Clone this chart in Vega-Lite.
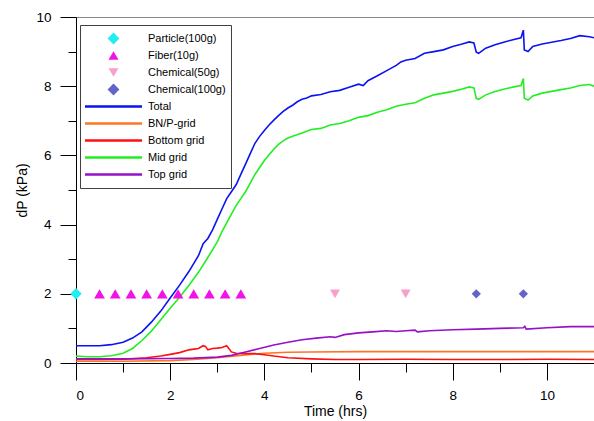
{
  "$schema": "https://vega.github.io/schema/vega-lite/v6.json",
  "width": 518,
  "height": 346,
  "autosize": {"type": "none"},
  "padding": {"left": 76, "top": 17, "right": 0, "bottom": 58},
  "background": "white",
  "config": {
    "view": {"stroke": "#888888", "strokeWidth": 1},
    "font": "Liberation Sans",
    "axis": {
      "grid": false,
      "domainColor": "#000000",
      "tickColor": "#000000",
      "labelColor": "#000000",
      "titleColor": "#000000",
      "labelFont": "Liberation Sans",
      "titleFont": "Liberation Sans",
      "labelFontSize": 13.5,
      "titleFontSize": 14,
      "titleFontWeight": "normal"
    }
  },
  "datasets": {
    "lines": [
      {"s":"Total","t":0,"v":0.50},{"s":"Total","t":0.25,"v":0.50},{"s":"Total","t":0.5,"v":0.50},{"s":"Total","t":0.75,"v":0.53},{"s":"Total","t":1.0,"v":0.60},{"s":"Total","t":1.2,"v":0.72},{"s":"Total","t":1.4,"v":0.90},{"s":"Total","t":1.6,"v":1.18},{"s":"Total","t":1.8,"v":1.50},{"s":"Total","t":2.0,"v":1.88},{"s":"Total","t":2.2,"v":2.25},{"s":"Total","t":2.4,"v":2.65},{"s":"Total","t":2.6,"v":3.10},{"s":"Total","t":2.7,"v":3.45},{"s":"Total","t":2.8,"v":3.60},{"s":"Total","t":2.9,"v":3.85},{"s":"Total","t":3.0,"v":4.15},{"s":"Total","t":3.1,"v":4.45},{"s":"Total","t":3.2,"v":4.75},{"s":"Total","t":3.3,"v":4.95},{"s":"Total","t":3.4,"v":5.15},{"s":"Total","t":3.5,"v":5.45},{"s":"Total","t":3.6,"v":5.75},{"s":"Total","t":3.7,"v":6.05},{"s":"Total","t":3.8,"v":6.35},{"s":"Total","t":3.9,"v":6.55},{"s":"Total","t":4.0,"v":6.72},{"s":"Total","t":4.1,"v":6.88},{"s":"Total","t":4.2,"v":7.02},{"s":"Total","t":4.3,"v":7.15},{"s":"Total","t":4.4,"v":7.27},{"s":"Total","t":4.5,"v":7.37},{"s":"Total","t":4.6,"v":7.45},{"s":"Total","t":4.7,"v":7.55},{"s":"Total","t":4.8,"v":7.62},{"s":"Total","t":4.9,"v":7.66},{"s":"Total","t":5.0,"v":7.72},{"s":"Total","t":5.2,"v":7.76},{"s":"Total","t":5.4,"v":7.84},{"s":"Total","t":5.6,"v":7.88},{"s":"Total","t":5.8,"v":7.97},{"s":"Total","t":6.0,"v":8.06},{"s":"Total","t":6.1,"v":8.02},{"s":"Total","t":6.2,"v":8.16},{"s":"Total","t":6.4,"v":8.30},{"s":"Total","t":6.6,"v":8.45},{"s":"Total","t":6.8,"v":8.60},{"s":"Total","t":6.9,"v":8.70},{"s":"Total","t":7.0,"v":8.75},{"s":"Total","t":7.2,"v":8.80},{"s":"Total","t":7.4,"v":8.95},{"s":"Total","t":7.6,"v":9.00},{"s":"Total","t":7.8,"v":9.05},{"s":"Total","t":8.0,"v":9.15},{"s":"Total","t":8.2,"v":9.22},{"s":"Total","t":8.35,"v":9.28},{"s":"Total","t":8.45,"v":9.25},{"s":"Total","t":8.5,"v":8.98},{"s":"Total","t":8.55,"v":8.95},{"s":"Total","t":8.7,"v":9.10},{"s":"Total","t":8.9,"v":9.20},{"s":"Total","t":9.1,"v":9.28},{"s":"Total","t":9.3,"v":9.35},{"s":"Total","t":9.45,"v":9.40},{"s":"Total","t":9.5,"v":9.62},{"s":"Total","t":9.52,"v":9.05},{"s":"Total","t":9.6,"v":9.00},{"s":"Total","t":9.7,"v":9.15},{"s":"Total","t":9.9,"v":9.22},{"s":"Total","t":10.1,"v":9.27},{"s":"Total","t":10.3,"v":9.32},{"s":"Total","t":10.5,"v":9.38},{"s":"Total","t":10.7,"v":9.46},{"s":"Total","t":10.9,"v":9.43},{"s":"Total","t":11.0,"v":9.40},

      {"s":"BN/P-grid","t":0,"v":0.05},{"s":"BN/P-grid","t":1.0,"v":0.05},{"s":"BN/P-grid","t":2.0,"v":0.07},{"s":"BN/P-grid","t":2.5,"v":0.10},{"s":"BN/P-grid","t":3.0,"v":0.15},{"s":"BN/P-grid","t":3.5,"v":0.22},{"s":"BN/P-grid","t":3.8,"v":0.26},{"s":"BN/P-grid","t":4.0,"v":0.28},{"s":"BN/P-grid","t":4.5,"v":0.31},{"s":"BN/P-grid","t":5.0,"v":0.32},{"s":"BN/P-grid","t":6.0,"v":0.33},{"s":"BN/P-grid","t":7.0,"v":0.33},{"s":"BN/P-grid","t":8.0,"v":0.33},{"s":"BN/P-grid","t":9.0,"v":0.33},{"s":"BN/P-grid","t":10.0,"v":0.33},{"s":"BN/P-grid","t":11.0,"v":0.33},

      {"s":"Bottom grid","t":0,"v":0.10},{"s":"Bottom grid","t":0.5,"v":0.10},{"s":"Bottom grid","t":1.0,"v":0.11},{"s":"Bottom grid","t":1.5,"v":0.15},{"s":"Bottom grid","t":1.8,"v":0.20},{"s":"Bottom grid","t":2.0,"v":0.25},{"s":"Bottom grid","t":2.2,"v":0.30},{"s":"Bottom grid","t":2.4,"v":0.38},{"s":"Bottom grid","t":2.5,"v":0.40},{"s":"Bottom grid","t":2.6,"v":0.42},{"s":"Bottom grid","t":2.7,"v":0.50},{"s":"Bottom grid","t":2.75,"v":0.48},{"s":"Bottom grid","t":2.8,"v":0.38},{"s":"Bottom grid","t":2.9,"v":0.42},{"s":"Bottom grid","t":3.0,"v":0.43},{"s":"Bottom grid","t":3.1,"v":0.45},{"s":"Bottom grid","t":3.2,"v":0.50},{"s":"Bottom grid","t":3.3,"v":0.32},{"s":"Bottom grid","t":3.4,"v":0.28},{"s":"Bottom grid","t":3.6,"v":0.27},{"s":"Bottom grid","t":3.8,"v":0.27},{"s":"Bottom grid","t":4.0,"v":0.24},{"s":"Bottom grid","t":4.2,"v":0.20},{"s":"Bottom grid","t":4.5,"v":0.15},{"s":"Bottom grid","t":5.0,"v":0.12},{"s":"Bottom grid","t":5.5,"v":0.10},{"s":"Bottom grid","t":6.0,"v":0.10},{"s":"Bottom grid","t":7.0,"v":0.11},{"s":"Bottom grid","t":8.0,"v":0.10},{"s":"Bottom grid","t":9.0,"v":0.10},{"s":"Bottom grid","t":10.0,"v":0.11},{"s":"Bottom grid","t":11.0,"v":0.10},

      {"s":"Mid grid","t":0,"v":0.20},{"s":"Mid grid","t":0.25,"v":0.18},{"s":"Mid grid","t":0.5,"v":0.18},{"s":"Mid grid","t":0.75,"v":0.21},{"s":"Mid grid","t":1.0,"v":0.28},{"s":"Mid grid","t":1.2,"v":0.42},{"s":"Mid grid","t":1.4,"v":0.65},{"s":"Mid grid","t":1.6,"v":0.92},{"s":"Mid grid","t":1.8,"v":1.25},{"s":"Mid grid","t":2.0,"v":1.58},{"s":"Mid grid","t":2.2,"v":1.90},{"s":"Mid grid","t":2.4,"v":2.25},{"s":"Mid grid","t":2.6,"v":2.62},{"s":"Mid grid","t":2.8,"v":3.05},{"s":"Mid grid","t":3.0,"v":3.50},{"s":"Mid grid","t":3.1,"v":3.80},{"s":"Mid grid","t":3.2,"v":4.05},{"s":"Mid grid","t":3.3,"v":4.30},{"s":"Mid grid","t":3.4,"v":4.55},{"s":"Mid grid","t":3.5,"v":4.75},{"s":"Mid grid","t":3.6,"v":4.95},{"s":"Mid grid","t":3.7,"v":5.20},{"s":"Mid grid","t":3.8,"v":5.45},{"s":"Mid grid","t":3.9,"v":5.65},{"s":"Mid grid","t":4.0,"v":5.85},{"s":"Mid grid","t":4.1,"v":6.02},{"s":"Mid grid","t":4.2,"v":6.18},{"s":"Mid grid","t":4.3,"v":6.32},{"s":"Mid grid","t":4.4,"v":6.42},{"s":"Mid grid","t":4.5,"v":6.50},{"s":"Mid grid","t":4.6,"v":6.55},{"s":"Mid grid","t":4.8,"v":6.65},{"s":"Mid grid","t":5.0,"v":6.75},{"s":"Mid grid","t":5.2,"v":6.78},{"s":"Mid grid","t":5.4,"v":6.88},{"s":"Mid grid","t":5.6,"v":6.92},{"s":"Mid grid","t":5.8,"v":7.00},{"s":"Mid grid","t":6.0,"v":7.10},{"s":"Mid grid","t":6.2,"v":7.15},{"s":"Mid grid","t":6.4,"v":7.25},{"s":"Mid grid","t":6.6,"v":7.32},{"s":"Mid grid","t":6.8,"v":7.42},{"s":"Mid grid","t":7.0,"v":7.48},{"s":"Mid grid","t":7.2,"v":7.52},{"s":"Mid grid","t":7.4,"v":7.65},{"s":"Mid grid","t":7.6,"v":7.75},{"s":"Mid grid","t":7.8,"v":7.80},{"s":"Mid grid","t":8.0,"v":7.85},{"s":"Mid grid","t":8.2,"v":7.92},{"s":"Mid grid","t":8.35,"v":7.98},{"s":"Mid grid","t":8.45,"v":7.95},{"s":"Mid grid","t":8.5,"v":7.65},{"s":"Mid grid","t":8.55,"v":7.62},{"s":"Mid grid","t":8.7,"v":7.75},{"s":"Mid grid","t":8.9,"v":7.85},{"s":"Mid grid","t":9.1,"v":7.92},{"s":"Mid grid","t":9.3,"v":7.98},{"s":"Mid grid","t":9.45,"v":8.02},{"s":"Mid grid","t":9.5,"v":8.22},{"s":"Mid grid","t":9.52,"v":7.65},{"s":"Mid grid","t":9.6,"v":7.60},{"s":"Mid grid","t":9.7,"v":7.72},{"s":"Mid grid","t":9.9,"v":7.80},{"s":"Mid grid","t":10.1,"v":7.85},{"s":"Mid grid","t":10.3,"v":7.90},{"s":"Mid grid","t":10.5,"v":7.95},{"s":"Mid grid","t":10.7,"v":8.02},{"s":"Mid grid","t":10.9,"v":8.05},{"s":"Mid grid","t":11.0,"v":8.00},

      {"s":"Top grid","t":0,"v":0.12},{"s":"Top grid","t":1.0,"v":0.12},{"s":"Top grid","t":2.0,"v":0.13},{"s":"Top grid","t":2.5,"v":0.14},{"s":"Top grid","t":3.0,"v":0.17},{"s":"Top grid","t":3.3,"v":0.22},{"s":"Top grid","t":3.6,"v":0.32},{"s":"Top grid","t":3.9,"v":0.42},{"s":"Top grid","t":4.2,"v":0.52},{"s":"Top grid","t":4.5,"v":0.60},{"s":"Top grid","t":4.8,"v":0.67},{"s":"Top grid","t":5.1,"v":0.72},{"s":"Top grid","t":5.4,"v":0.76},{"s":"Top grid","t":5.5,"v":0.74},{"s":"Top grid","t":5.7,"v":0.82},{"s":"Top grid","t":6.0,"v":0.87},{"s":"Top grid","t":6.3,"v":0.90},{"s":"Top grid","t":6.6,"v":0.93},{"s":"Top grid","t":6.8,"v":0.91},{"s":"Top grid","t":7.0,"v":0.93},{"s":"Top grid","t":7.2,"v":0.95},{"s":"Top grid","t":7.25,"v":0.90},{"s":"Top grid","t":7.5,"v":0.93},{"s":"Top grid","t":8.0,"v":0.96},{"s":"Top grid","t":8.5,"v":0.98},{"s":"Top grid","t":9.0,"v":1.00},{"s":"Top grid","t":9.5,"v":1.02},{"s":"Top grid","t":9.53,"v":1.06},{"s":"Top grid","t":9.56,"v":0.98},{"s":"Top grid","t":10.0,"v":1.02},{"s":"Top grid","t":10.5,"v":1.05},{"s":"Top grid","t":11.0,"v":1.05}
    ],
    "markers": [
      {"s":"Particle(100g)","t":0,"v":2},
      {"s":"Fiber(10g)","t":0.5,"v":2},{"s":"Fiber(10g)","t":0.833,"v":2},{"s":"Fiber(10g)","t":1.167,"v":2},{"s":"Fiber(10g)","t":1.5,"v":2},{"s":"Fiber(10g)","t":1.833,"v":2},{"s":"Fiber(10g)","t":2.167,"v":2},{"s":"Fiber(10g)","t":2.5,"v":2},{"s":"Fiber(10g)","t":2.833,"v":2},{"s":"Fiber(10g)","t":3.167,"v":2},{"s":"Fiber(10g)","t":3.5,"v":2},
      {"s":"Chemical(50g)","t":5.5,"v":2},{"s":"Chemical(50g)","t":7.0,"v":2},
      {"s":"Chemical(100g)","t":8.5,"v":2},{"s":"Chemical(100g)","t":9.5,"v":2}
    ]
  },
  "encoding": {
    "x": {
      "field": "t", "type": "quantitative",
      "scale": {"domain": [0, 11], "nice": false, "zero": false},
      "axis": {
        "title": "Time (hrs)",
        "values": [0,1,2,3,4,5,6,7,8,9,10],
        "labelExpr": "datum.value % 2 ? '' : datum.label",
        "tickSize": {"condition": {"test": "datum.value % 2 == 1", "value": 9}, "value": 17},
        "labelPadding": 8,
        "titlePadding": 3
      }
    },
    "y": {
      "field": "v", "type": "quantitative",
      "scale": {"domain": [0, 10], "nice": false},
      "axis": {
        "title": "dP (kPa)",
        "values": [0,1,2,3,4,5,6,7,8,9,10],
        "labelExpr": "datum.value % 2 ? '' : datum.label",
        "tickSize": {"condition": {"test": "datum.value % 2 == 1", "value": 8}, "value": 16},
        "labelPadding": 9,
        "titlePadding": 6
      }
    },
    "color": {
      "field": "s", "type": "nominal",
      "scale": {
        "domain": ["Particle(100g)","Fiber(10g)","Chemical(50g)","Chemical(100g)","Total","BN/P-grid","Bottom grid","Mid grid","Top grid"],
        "range": ["#22EEF2","#F012E6","#F8A0CC","#6464C8","#0A14F0","#FF7426","#FF1010","#22EE22","#9610C8"]
      },
      "legend": {
        "title": null,
        "orient": "none",
        "legendX": 4,
        "legendY": 8,
        "padding": 5,
        "strokeColor": "#404040",
        "fillColor": "white",
        "symbolSize": 3249,
        "clipHeight": 17,
        "rowPadding": 0,
        "labelOffset": 6,
        "labelFont": "Liberation Sans",
        "labelFontSize": 11,
        "labelColor": "#000000",
        "symbolStrokeWidth": 0,
        "encoding": {
          "symbols": {
            "shape": {"value": {"expr": "(datum.value == 'Particle(100g)' || datum.value == 'Chemical(100g)') ? 'diamond' : datum.value == 'Fiber(10g)' ? 'triangle-up' : datum.value == 'Chemical(50g)' ? 'triangle-down' : 'M-1,-0.04H1V0.04H-1Z'"}},
            "size": {"value": {"expr": "(datum.value == 'Particle(100g)' || datum.value == 'Chemical(100g)') ? 140 : (datum.value == 'Fiber(10g)' || datum.value == 'Chemical(50g)') ? 100 : 3249"}},
            "fill": {"value": {"expr": "scale('color', datum.value)"}},
            "stroke": {"value": "transparent"},
            "strokeWidth": {"value": 0},
            "opacity": {"value": 1}
          }
        }
      }
    }
  },
  "layer": [
    {
      "data": {"name": "lines"},
      "mark": {"type": "line", "strokeWidth": 1.6, "interpolate": "linear"}
    },
    {
      "data": {"name": "markers"},
      "mark": {"type": "point", "filled": true, "opacity": 1, "strokeWidth": 0},
      "encoding": {
        "shape": {
          "field": "s", "type": "nominal",
          "scale": {
            "domain": ["Particle(100g)","Fiber(10g)","Chemical(50g)","Chemical(100g)"],
            "range": ["diamond","triangle-up","triangle-down","diamond"]
          },
          "legend": null
        },
        "size": {
          "field": "s", "type": "nominal",
          "scale": {
            "domain": ["Particle(100g)","Fiber(10g)","Chemical(50g)","Chemical(100g)"],
            "range": [130, 85, 85, 130]
          },
          "legend": null
        }
      }
    }
  ]
}
